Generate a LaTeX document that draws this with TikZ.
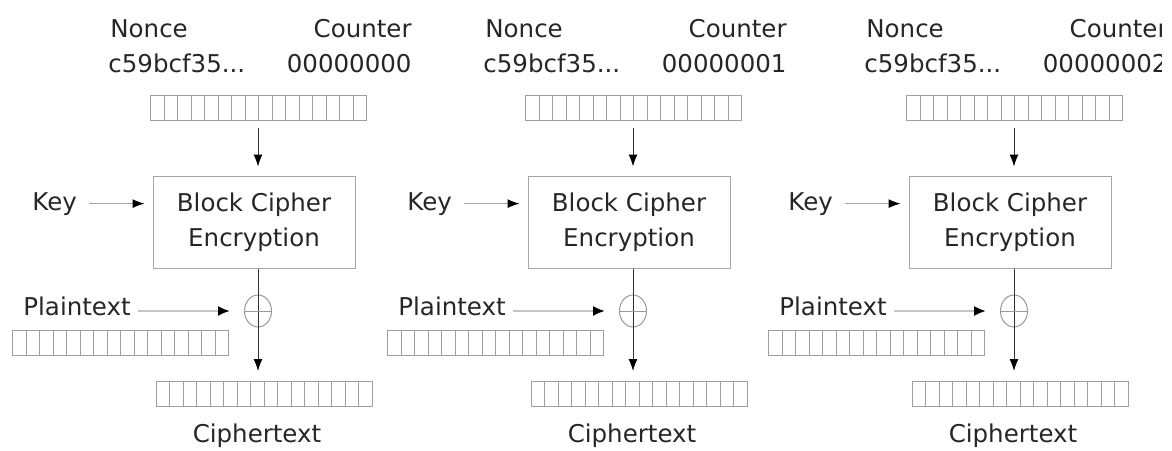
\documentclass[tikz,border=0pt]{standalone}
\usepackage{fontspec}
\setmainfont{DejaVu Sans}
\usetikzlibrary{arrows.meta,shapes.geometric}
\begin{document}
\begin{tikzpicture}[x=0.5pt,y=-0.5pt,
  every node/.style={inner sep=0pt, text=black!85, font=\fontsize{12.25}{17.5}\selectfont},
  reg/.style={draw=gray!75, line width=0.5pt, minimum width=108pt, minimum height=12.5pt,
    path picture={\foreach \i in {1,...,15}{\draw[gray!75, line width=0.5pt]
      ([xshift=\i*6.75pt]path picture bounding box.south west) --
      ([xshift=\i*6.75pt]path picture bounding box.north west);}}},
  cipherbox/.style={draw=gray!70, line width=0.5pt, minimum width=101pt, minimum height=46pt, align=center},
  xorsym/.style={ellipse, draw=gray!80, line width=0.5pt, minimum width=13.5pt, minimum height=16pt},
  varr/.style={draw=black!80, line width=0.5pt, -{Latex[length=6pt,width=4.5pt,black]}},
  karr/.style={draw=gray!70, line width=0.5pt, -{Latex[length=6pt,width=4.5pt,black]}},
  parr/.style={draw=gray!45, line width=1pt, -{Latex[length=6pt,width=5pt,black]}}
]
\useasboundingbox (0,0) rectangle (1172,450);
\clip (0,0) rectangle (1161,450);
\foreach \o/\n/\c in {0/a/00000000, 375/b/00000001, 756/c/00000002}{
  \begin{scope}[shift={(\o,0)}]
    \node[anchor=base west] (nonce\n) at (110,37) {Nonce};
    \node[anchor=base west] (nval\n) at (108,72) {c59bcf35...};
    \node[anchor=base east] (counter\n) at (412,37) {Counter};
    \node[anchor=base east] (cval\n) at (412,72) {\c};
    \node[reg] (in\n) at (258.5,107.5) {};
    \node[cipherbox] (box\n) at (254,222) {Block Cipher\\Encryption};
    \node[anchor=base west] (key\n) at (32,210) {Key};
    \node[xorsym] (xor\n) at (258,311) {};
    \node[anchor=base west] (plain\n) at (23,315) {Plaintext};
    \node[reg] (pt\n) at (120.5,343) {};
    \node[reg] (ct\n) at (264,394) {};
    \node[anchor=base] (ctl\n) at (257,442) {Ciphertext};
    \draw[varr, shorten <=3.5pt, shorten >=4.5pt] (in\n.south -| xor\n.center) -- (box\n.north -| xor\n.center);
    \draw[karr, shorten <=6pt, shorten >=4pt] (key\n.east) -- (key\n.east -| box\n.west);
    \draw[varr, shorten >=5pt] (box\n.south -| xor\n.center) -- (ct\n.north -| xor\n.center);
    \draw[gray!80, line width=0.5pt] (xor\n.west) -- (xor\n.east);
    \draw[parr, shorten <=3.5pt, shorten >=7pt] (plain\n.east |- xor\n.center) -- (xor\n.west);
  \end{scope}
}
\end{tikzpicture}
\end{document}
